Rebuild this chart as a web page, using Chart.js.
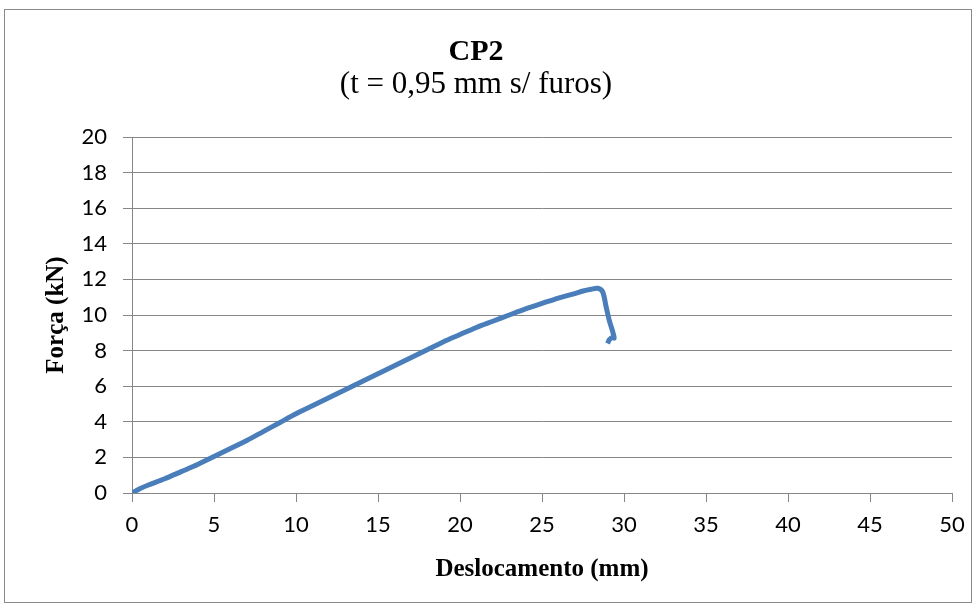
<!DOCTYPE html>
<html>
<head>
<meta charset="utf-8">
<script src="https://cdn.jsdelivr.net/npm/chart.js@4/dist/chart.umd.min.js"></script>
<style>
  html, body { margin: 0; padding: 0; background: #fff; }
  #wrap { position: relative; width: 978px; height: 608px; }
  #frame { position: absolute; left: 4px; top: 9px; width: 966px; height: 592px; border: 1px solid #8a8a8a; pointer-events: none; }
  canvas { position: absolute; left: 0; top: 0; }
</style>
</head>
<body>
<div id="wrap">
  <canvas id="chart" width="978" height="608"></canvas>
  <div id="frame"></div>
</div>
<script>
  // deslocamento (mm) e força (kN)
  const deslocamento = [0, 0.5, 1, 2, 3, 4, 5, 6, 7, 8, 9, 10, 11, 12, 13, 14, 15, 16, 17, 18, 19, 20,
    21, 22, 23, 24, 25, 26, 27, 27.5, 28, 28.4, 28.7, 28.9, 29.1, 29.3, 29.4, 29.3, 29.1, 29.0];
  const forca = [0, 0.25, 0.45, 0.8, 1.2, 1.6, 2.05, 2.5, 2.95, 3.45, 3.95, 4.45, 4.9, 5.35, 5.8, 6.25, 6.7, 7.15, 7.6, 8.05, 8.5, 8.9,
    9.3, 9.65, 10.0, 10.35, 10.65, 10.95, 11.2, 11.35, 11.45, 11.5, 11.3, 10.5, 9.7, 9.1, 8.7, 8.75, 8.6, 8.4];

  const titulo = 'CP2';
  const subtitulo = '(t = 0,95 mm s/ furos)';
  const tituloX = 'Deslocamento (mm)';
  const tituloY = 'Força (kN)';

  const pontos = deslocamento.map((x, i) => ({ x: x, y: forca[i] }));

  const tickFont = { family: 'Lato, "Liberation Sans", sans-serif', size: 22 };
  const serif = '"Liberation Serif", "DejaVu Serif", serif';

  new Chart(document.getElementById('chart'), {
    type: 'scatter',
    data: {
      datasets: [{
        data: pontos,
        showLine: true,
        borderColor: '#4a7ebb',
        borderWidth: 5,
        pointRadius: 0,
        tension: 0.3,
        fill: false
      }]
    },
    options: {
      responsive: false,
      animation: false,
      layout: { padding: { left: 0, right: 26, top: 0, bottom: 0 } },
      plugins: {
        legend: { display: false },
        tooltip: { enabled: false },
        title: {
          display: true,
          text: titulo,
          color: '#000',
          font: { family: serif, size: 30, weight: 'bold', lineHeight: 1.0 },
          padding: { top: 37, bottom: 0 }
        },
        subtitle: {
          display: true,
          text: subtitulo,
          color: '#000',
          font: { family: serif, size: 31, lineHeight: 1.0 },
          padding: { top: 2, bottom: 37 }
        }
      },
      scales: {
        x: {
          type: 'linear',
          min: 0,
          max: 50,
          ticks: { stepSize: 5, color: '#000', font: tickFont, padding: 10 },
          grid: { drawOnChartArea: false, drawTicks: true, tickLength: 9, color: '#868686' },
          border: { color: '#868686' },
          title: {
            display: true,
            text: tituloX,
            color: '#000',
            font: { family: serif, size: 25, weight: 'bold', lineHeight: 1.2 },
            padding: { top: 0, bottom: 23 }
          },
          afterFit: scale => { scale.height = 115; }
        },
        y: {
          min: 0,
          max: 20,
          ticks: { stepSize: 2, color: '#000', font: tickFont, padding: 16 },
          grid: { color: '#868686', tickLength: 9 },
          border: { color: '#868686' },
          title: {
            display: true,
            text: tituloY,
            color: '#000',
            font: { family: serif, size: 25, weight: 'bold', lineHeight: 1.2 },
            padding: { top: 42, bottom: 0 }
          },
          afterFit: scale => { scale.width = 132; }
        }
      }
    }
  });
</script>
</body>
</html>
